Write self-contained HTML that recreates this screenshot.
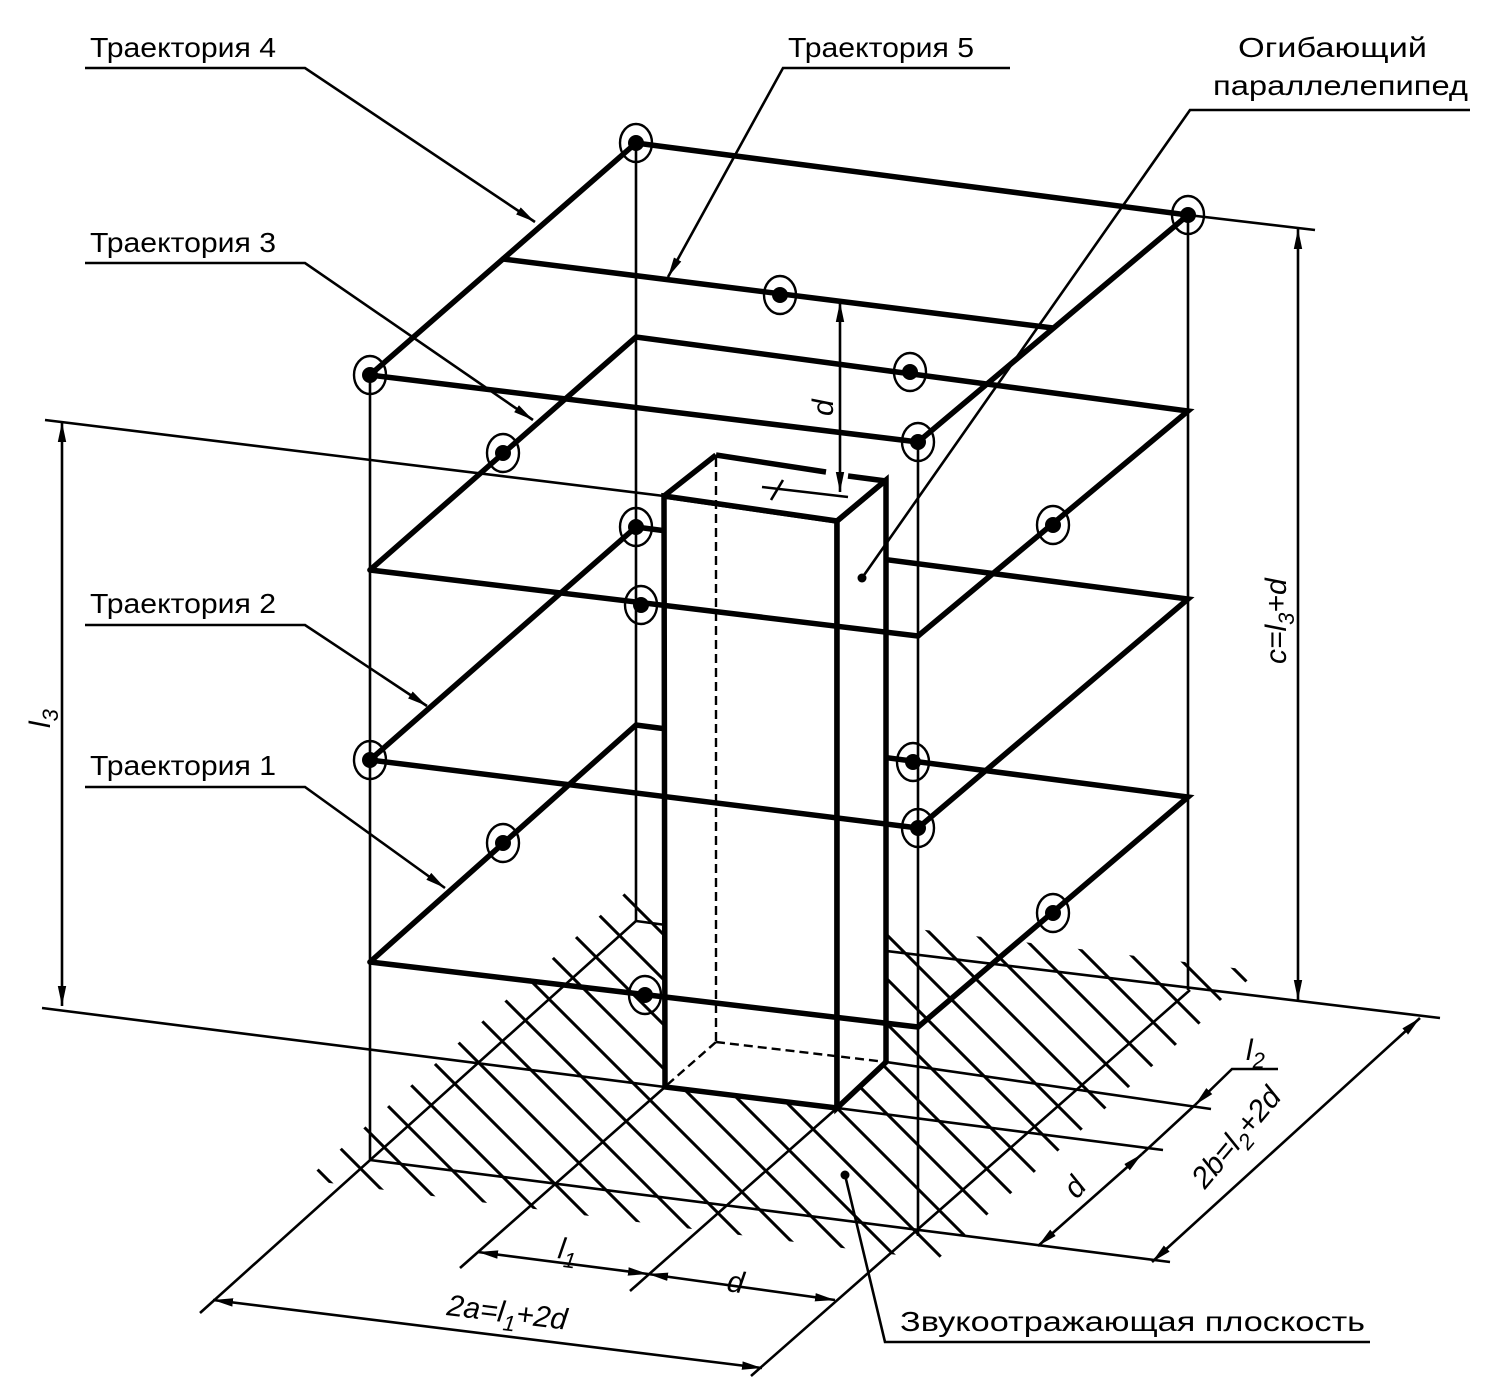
<!DOCTYPE html>
<html><head><meta charset="utf-8"><style>
html,body{margin:0;padding:0;background:#fff;overflow:hidden;width:1493px;height:1397px;}
svg{display:block;}
text{font-family:"Liberation Sans",sans-serif;fill:#000;}
.it{font-style:italic;}
</style></head><body>
<svg width="1493" height="1397" viewBox="0 0 1493 1397" xmlns="http://www.w3.org/2000/svg">
<defs>
<marker id="ah" markerUnits="userSpaceOnUse" markerWidth="24" markerHeight="14" refX="20" refY="5" orient="auto-start-reverse" viewBox="0 0 24 10">
<path d="M0,0.8 L20,5 L0,9.2 Z" fill="#000"/>
</marker>
<clipPath id="gc"><polygon points="306,1180 625,893 1258,971 937,1260"/></clipPath>
</defs>
<rect width="1493" height="1397" fill="#fff"/>

<g clip-path="url(#gc)" stroke="#000" stroke-width="3">
<path d="M28,880L428,1280M72,880L472,1280M117,880L517,1280M162,880L562,1280M206,880L606,1280M251,880L651,1280M296,880L696,1280M341,880L741,1280M385,880L785,1280M430,880L830,1280M475,880L875,1280M519,880L919,1280M564,880L964,1280M609,880L1009,1280M653,880L1053,1280M698,880L1098,1280M743,880L1143,1280M788,880L1188,1280M832,880L1232,1280M877,880L1277,1280M922,880L1322,1280M966,880L1366,1280M1011,880L1411,1280M1056,880L1456,1280M1101,880L1221,1000M1145,880L1265,1000"/>
</g>

<g stroke="#000" stroke-width="2.6" fill="none">
<line x1="370" y1="375" x2="370" y2="1160"/>
<line x1="636" y1="143" x2="636" y2="921"/>
<line x1="1188" y1="215" x2="1188" y2="990"/>
<line x1="918" y1="442" x2="918" y2="1236"/>
<line x1="636" y1="921" x2="200" y2="1313"/>
<line x1="370" y1="1160" x2="1170" y2="1262"/>
<line x1="636" y1="921" x2="666" y2="925"/>
<line x1="886" y1="951" x2="1440" y2="1018"/>
<line x1="1190" y1="990" x2="751" y2="1376"/>
<line x1="42" y1="1008" x2="665" y2="1087"/>
<line x1="837" y1="1108" x2="1163" y2="1150"/>
<line x1="886" y1="1062" x2="1211" y2="1109"/>
<line x1="45" y1="420" x2="664" y2="496"/>
<line x1="1188" y1="215" x2="1315" y2="230"/>
<line x1="665" y1="1087" x2="460" y2="1268"/>
<line x1="837" y1="1108" x2="630" y2="1291"/>
<line x1="62" y1="422" x2="62" y2="1006" marker-start="url(#ah)" marker-end="url(#ah)"/>
<line x1="1298" y1="229" x2="1298" y2="1000" marker-start="url(#ah)" marker-end="url(#ah)"/>
<line x1="213" y1="1300" x2="762" y2="1368" marker-start="url(#ah)" marker-end="url(#ah)"/>
<line x1="478" y1="1252" x2="648" y2="1274" marker-start="url(#ah)" marker-end="url(#ah)"/>
<line x1="648" y1="1274" x2="835" y2="1300" marker-start="url(#ah)" marker-end="url(#ah)"/>
<line x1="1142" y1="1154" x2="1038" y2="1246" marker-start="url(#ah)" marker-end="url(#ah)"/>
<line x1="1195" y1="1105" x2="1142" y2="1154"/>
<polyline points="1278,1069 1232,1069 1195,1105" marker-end="url(#ah)"/>
<line x1="1420" y1="1018" x2="1152" y2="1262" marker-start="url(#ah)" marker-end="url(#ah)"/>
</g>

<g stroke="#000" stroke-width="5.5" fill="none" stroke-linecap="round">
<polygon points="370,375 636,143 1188,215 918,442"/>
<line x1="503" y1="259" x2="1053" y2="328"/>
<polyline points="370,570 636,337 1188,411 918,636"/>
<polyline points="370,760 636,527 1188,599 918,828"/>
<polyline points="370,962 636,725 1188,797 918,1027"/>
</g>

<g stroke="#000" stroke-width="5.5" fill="#fff" stroke-linejoin="miter">
<polygon points="664,496 837,521 837,1108 665,1087"/>
<polygon points="837,521 886,480 886,1062 837,1108"/>
</g>
<polygon points="716,455 886,480 837,521 664,496" fill="#fff" stroke="none"/>
<g stroke="#000" stroke-width="5.5" fill="none">
<line x1="664" y1="496" x2="716" y2="455"/>
<line x1="716" y1="455" x2="826" y2="472"/>
<line x1="848" y1="476" x2="886" y2="481"/>
<line x1="837" y1="521" x2="886" y2="480"/>
<line x1="664" y1="496" x2="837" y2="521"/>
</g>
<g stroke="#000" stroke-width="2.4" fill="none" stroke-dasharray="9,5">
<line x1="716" y1="458" x2="716" y2="1042"/>
<line x1="716" y1="1042" x2="886" y2="1062"/>
<line x1="716" y1="1042" x2="667" y2="1085"/>
</g>
<g stroke="#000" stroke-width="2.6" fill="none">
<line x1="840" y1="302" x2="840" y2="492" marker-start="url(#ah)" marker-end="url(#ah)"/>
<line x1="762" y1="487" x2="848" y2="497"/>
<line x1="771" y1="500" x2="783" y2="480"/>
</g>

<g stroke="#000" stroke-width="5.5" fill="none" stroke-linecap="round">
<line x1="370" y1="570" x2="918" y2="636"/>
<line x1="370" y1="760" x2="918" y2="828"/>
<line x1="370" y1="962" x2="918" y2="1027"/>
</g>

<g stroke="#000" stroke-width="2.4" fill="none">
<ellipse cx="636" cy="143" rx="16" ry="19"/><ellipse cx="1188" cy="215" rx="16" ry="19"/>
<ellipse cx="370" cy="375" rx="16" ry="19"/><ellipse cx="918" cy="442" rx="16" ry="19"/>
<ellipse cx="780" cy="295" rx="16" ry="19"/>
<ellipse cx="910" cy="372" rx="16" ry="19"/><ellipse cx="503" cy="453" rx="16" ry="19"/>
<ellipse cx="1053" cy="525" rx="16" ry="19"/><ellipse cx="641" cy="605" rx="16" ry="19"/>
<ellipse cx="636" cy="527" rx="16" ry="19"/><ellipse cx="370" cy="760" rx="16" ry="19"/>
<ellipse cx="918" cy="828" rx="16" ry="19"/>
<ellipse cx="913" cy="762" rx="16" ry="19"/><ellipse cx="503" cy="843" rx="16" ry="19"/>
<ellipse cx="1053" cy="913" rx="16" ry="19"/><ellipse cx="645" cy="995" rx="16" ry="19"/>
</g>
<g fill="#000">
<circle cx="636" cy="143" r="8"/><circle cx="1188" cy="215" r="8"/>
<circle cx="370" cy="375" r="8"/><circle cx="918" cy="442" r="8"/>
<circle cx="780" cy="295" r="8"/>
<circle cx="910" cy="372" r="8"/><circle cx="503" cy="453" r="8"/>
<circle cx="1053" cy="525" r="8"/><circle cx="641" cy="605" r="8"/>
<circle cx="636" cy="527" r="8"/><circle cx="370" cy="760" r="8"/>
<circle cx="918" cy="828" r="8"/>
<circle cx="913" cy="762" r="8"/><circle cx="503" cy="843" r="8"/>
<circle cx="1053" cy="913" r="8"/><circle cx="645" cy="995" r="8"/>
<circle cx="862" cy="578" r="4.5"/><circle cx="845" cy="1175" r="4.5"/>
</g>

<g stroke="#000" stroke-width="2.6" fill="none">
<polyline points="85,68 305,68 535,222" marker-end="url(#ah)"/>
<polyline points="1010,68 783,68 668,277" marker-end="url(#ah)"/>
<polyline points="1470,110 1190,110 862,578"/>
<polyline points="85,263 305,263 533,420" marker-end="url(#ah)"/>
<polyline points="85,625 305,625 427,706" marker-end="url(#ah)"/>
<polyline points="85,787 305,787 445,888" marker-end="url(#ah)"/>
<polyline points="1370,1342 885,1342 845,1175"/>
</g>

<g font-size="28">
<text x="90" y="57" textLength="186" lengthAdjust="spacingAndGlyphs">Траектория 4</text>
<text x="788" y="57" textLength="186" lengthAdjust="spacingAndGlyphs">Траектория 5</text>
<text x="1238" y="57" textLength="189" lengthAdjust="spacingAndGlyphs">Огибающий</text>
<text x="1213" y="95" textLength="255" lengthAdjust="spacingAndGlyphs">параллелепипед</text>
<text x="90" y="252" textLength="186" lengthAdjust="spacingAndGlyphs">Траектория 3</text>
<text x="90" y="613" textLength="186" lengthAdjust="spacingAndGlyphs">Траектория 2</text>
<text x="90" y="775" textLength="186" lengthAdjust="spacingAndGlyphs">Траектория 1</text>
<text x="900" y="1331" textLength="465" lengthAdjust="spacingAndGlyphs">Звукоотражающая плоскость</text>
</g>
<g font-size="30">
<text class="it" transform="translate(50,728) rotate(-90)">l<tspan font-size="22" dy="8">3</tspan></text>
<text class="it" transform="translate(1286,664) rotate(-90)">c=l<tspan font-size="22" dy="8">3</tspan><tspan dy="-8">+d</tspan></text>
<text class="it" transform="translate(833,416) rotate(-90)">d</text>
<text class="it" transform="translate(557,1258) rotate(8)">l<tspan font-size="22" dy="8">1</tspan></text>
<text class="it" transform="translate(726,1291) rotate(8)">d</text>
<text class="it" transform="translate(446,1315) rotate(7)">2a=l<tspan font-size="22" dy="8">1</tspan><tspan dy="-8">+2d</tspan></text>
<text class="it" transform="translate(1246,1060)">l<tspan font-size="22" dy="8">2</tspan></text>
<text class="it" transform="translate(1077,1200) rotate(-50)">d</text>
<text class="it" transform="translate(1205,1190) rotate(-50)">2b=l<tspan font-size="22" dy="8">2</tspan><tspan dy="-8">+2d</tspan></text>
</g>
</svg>
</body></html>
